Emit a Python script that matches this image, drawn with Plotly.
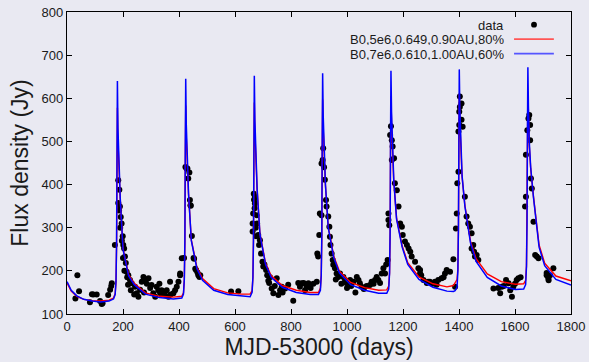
import plotly.graph_objects as go

# ---------------- data ----------------
data_day = [30, 37, 43, 82, 89, 94, 106, 118, 124, 127, 147, 154, 158, 160, 171,
            183, 187, 183, 189, 192, 195, 199, 201, 204, 207, 210, 213, 219, 225, 231,
            243, 249, 255, 261, 267, 273, 279, 291, 302, 308, 320, 326, 333, 338, 344,
            350, 356, 368, 380, 386, 392, 398, 404, 410, 275, 285, 297, 315, 330, 362,
            370, 240, 228, 218, 205, 190, 186, 196, 200, 215,
            418, 423, 427, 430, 433, 437, 439, 441, 442, 446, 452, 454, 458, 461, 466, 469,
            473, 476, 404, 586, 612,
            663, 663, 665, 667, 668, 670, 671, 671, 674, 676, 677, 679, 683, 686, 689, 693,
            698, 701, 705, 711, 715, 719, 722, 725, 731, 737, 742, 749, 755, 761, 767, 770,
            779, 790, 808, 826, 838, 850, 856, 862,
            832, 845, 856, 870, 880, 892, 894, 897, 901, 903, 909, 909, 913, 915, 918, 921,
            925, 927, 933, 937, 939, 941, 945, 949, 951, 957, 960, 963, 969, 975, 980, 987,
            993, 999, 1000, 1011, 1015, 1023, 1030, 1035, 1041, 1046, 1052, 1060, 1070, 1082,
            1088, 1095, 1100, 1106, 1112, 1118, 1124, 1130, 1136, 1140, 1145,
            1148, 1148, 1151, 1154, 1157, 1160, 1160, 1163, 1168, 1171, 1178, 1184, 1190, 1196,
            1199, 1207, 1214, 1220, 1226, 1231, 1243, 1255, 1261, 1261, 1265, 1273, 1285, 1290,
            1296, 1305, 1314, 1320, 1326, 1338, 1345, 1350, 1356, 1368, 1380, 1386,
            1389, 1392, 1394, 1398, 1398, 1401, 1401, 1403, 1403, 1409, 1409, 1413, 1421, 1427,
            1433, 1439, 1445, 1445, 1451, 1454, 1457, 1463, 1469,
            1523, 1540, 1547, 1553, 1560, 1568, 1577, 1583, 1589, 1594, 1600, 1606, 1612, 1620,
            1636, 1639, 1639, 1644, 1648, 1651, 1654, 1654, 1657, 1660, 1666, 1672, 1678, 1684,
            1713, 1713, 1719, 1720, 1725, 1737]
data_flux = [136, 190, 153, 127, 146, 145, 145, 130, 123, 125, 144, 156, 165, 171, 260,
             410, 388, 357, 349, 325, 310, 280, 260, 252, 233, 218, 198, 190, 179, 171,
             163, 148, 140, 156, 175, 186, 179, 183, 167, 148, 163, 155, 148, 155, 148,
             144, 155, 175, 148, 155, 163, 175, 190, 229, 150, 170, 160, 140, 170, 140,
             145, 145, 155, 168, 200, 300, 340, 270, 230, 185,
             230, 441, 437, 437, 414, 428, 364, 352, 351, 281, 230, 228, 205, 202, 196, 190,
             186, 190, 194, 152, 153,
             310, 291, 333, 379, 365, 345, 372, 356, 300, 280, 329, 310, 283, 260, 271, 240,
             221, 210, 215, 202, 190, 177, 172, 185, 159, 148, 165, 183, 144, 155, 163, 150,
             159, 168, 131, 172, 171, 155, 163, 171,
             163, 172, 165, 160, 170, 175, 240, 233, 283, 333, 329, 449, 457, 484, 440, 411,
             364, 349, 326, 302, 279, 260, 240, 225, 214, 206, 180, 194, 186, 194, 170, 186,
             179, 171, 160, 179, 165, 175, 150, 186, 179, 171, 163, 158, 165, 167,
             175, 170, 179, 186, 179, 172, 194, 206, 194, 215, 225,
             333, 318, 306, 515, 535, 503, 457, 488, 461, 403, 387, 349, 310, 302,
             283, 268, 260, 252, 244, 233, 221, 206, 194, 202, 190, 179, 172, 175,
             175, 170, 175, 168, 179, 183, 185, 194, 202, 198, 227, 163,
             298, 333, 403, 430, 523, 538, 569, 604, 580, 588, 550, 534, 372, 326,
             310, 302, 287, 252, 260, 244, 233, 237, 225,
             159, 160, 148, 163, 165, 179, 171, 155, 140, 163, 170, 179, 183, 185,
             349, 372, 469, 526, 553, 561, 538, 503, 414, 391, 314, 237, 233, 229,
             190, 195, 183, 178, 190, 206]

model_day = [0, 15, 35, 60, 90, 120, 150, 166,
             172, 175, 177, 178.5, 180, 182, 185, 190, 200, 220, 240, 280, 330, 380, 410,
             416, 419, 421, 422.5, 424, 426, 429, 434, 444, 464, 484, 524, 574, 624, 654,
             661, 664, 666, 667.5, 669, 671, 674, 679, 689, 709, 729, 769, 819, 869, 898,
             905, 908, 910, 911.5, 913, 915, 918, 923, 933, 953, 973, 1013, 1063, 1113, 1142,
             1149, 1152, 1154, 1155.5, 1157, 1159, 1162, 1167, 1177, 1197, 1217, 1257, 1307, 1357, 1380,
             1386, 1393, 1396, 1398, 1399.5, 1401, 1403, 1406, 1411, 1421, 1441, 1461, 1501, 1551, 1601, 1631,
             1638, 1641, 1643, 1644.5, 1646, 1648, 1651, 1656, 1666, 1686, 1706, 1746, 1796, 1800]

red_flux = [172, 153, 141, 134, 131, 130, 132, 137,
            147, 175, 255, 450, 578, 500, 430, 368, 252, 191, 171, 149, 141, 139, 141,
            149, 180, 265, 460, 583, 510, 440, 378, 272, 208, 182, 159, 149, 146, 146,
            154, 185, 270, 470, 590, 520, 450, 388, 287, 218, 189, 166, 155, 150, 150,
            160, 190, 275, 475, 597, 530, 460, 398, 302, 233, 199, 173, 161, 155, 156,
            165, 195, 285, 480, 605, 540, 470, 408, 322, 258, 219, 186, 170, 163, 166,
            172, 180, 205, 295, 490, 611, 545, 480, 418, 352, 269, 228, 193, 175, 169, 170,
            178, 212, 305, 495, 615, 550, 490, 438, 372, 260, 218, 188, 177, 177]

blue_flux = [175, 155, 142, 134, 130, 128, 130, 135,
             145, 175, 260, 480, 640, 530, 440, 370, 250, 188, 168, 146, 138, 135, 137,
             146, 180, 270, 490, 645, 540, 450, 380, 270, 205, 178, 155, 145, 142, 140,
             150, 185, 275, 500, 652, 550, 460, 390, 285, 215, 185, 162, 150, 145, 145,
             155, 190, 280, 505, 658, 560, 470, 400, 300, 230, 195, 168, 155, 148, 148,
             158, 195, 290, 510, 664, 570, 480, 410, 320, 255, 215, 180, 162, 153, 152,
             154, 162, 200, 300, 520, 667, 575, 490, 420, 350, 265, 222, 185, 165, 157, 158,
             168, 210, 310, 530, 672, 580, 500, 440, 370, 255, 212, 180, 168, 167]

legend_labels = ["data", "B0,5e6,0.649,0.90AU,80%", "B0,7e6,0.610,1.00AU,60%"]
x_ticks = [0, 200, 400, 600, 800, 1000, 1200, 1400, 1600, 1800]
y_ticks = [100, 200, 300, 400, 500, 600, 700, 800]

# ---------------- figure ----------------
BG = "#e9e9f2"
FONT = "Liberation Sans, Arial, sans-serif"
TXT = "#1a1a1a"

fig = go.Figure()
fig.add_trace(go.Scatter(x=data_day, y=data_flux, mode="markers",
                         marker=dict(color="black", size=6), showlegend=False))
fig.add_trace(go.Scatter(x=model_day, y=red_flux, mode="lines",
                         line=dict(color="#ff0000", width=1.4), showlegend=False))
fig.add_trace(go.Scatter(x=model_day, y=blue_flux, mode="lines",
                         line=dict(color="#0000ff", width=1.5), showlegend=False))

axis_common = dict(showgrid=False, zeroline=False, showline=True, linecolor="black",
                   linewidth=1.3, mirror="ticks", ticks="inside", ticklen=5,
                   tickcolor="black", tickwidth=1, automargin=False,
                   tickfont=dict(size=13, color=TXT, family=FONT))
fig.update_xaxes(range=[0, 1800], tickvals=x_ticks, ticktext=[str(v) for v in x_ticks],
                 title=dict(text="MJD-53000 (days)", font=dict(size=23, color=TXT, family=FONT), standoff=2),
                 **axis_common)
fig.update_yaxes(range=[100, 800], tickvals=y_ticks, ticktext=[str(v) for v in y_ticks],
                 title=dict(text="Flux density (Jy)", font=dict(size=23, color=TXT, family=FONT), standoff=6),
                 **axis_common)

# manual gnuplot-style legend (text on left, sample on right)
row_y = [0.958, 0.910, 0.862]
text_x = 0.870
samp_x0, samp_x1 = 0.887, 0.966
anns = []
for lbl, yy in zip(legend_labels, row_y):
    anns.append(dict(x=text_x, y=yy, xref="paper", yref="paper", text=lbl, showarrow=False,
                     xanchor="right", yanchor="middle", height=12, borderpad=0,
                     font=dict(size=13, color=TXT, family=FONT)))
shapes = [
    dict(type="circle", xref="paper", yref="paper", x0=0.9266 - 0.0058, x1=0.9266 + 0.0058,
         y0=row_y[0] - 0.0097, y1=row_y[0] + 0.0097, fillcolor="black", line=dict(width=0)),
    dict(type="line", xref="paper", yref="paper", x0=samp_x0, x1=samp_x1, y0=row_y[1], y1=row_y[1],
         line=dict(color="#ff5555", width=1.8)),
    dict(type="line", xref="paper", yref="paper", x0=samp_x0, x1=samp_x1, y0=row_y[2], y1=row_y[2],
         line=dict(color="#5555ff", width=1.8)),
]

fig.update_layout(width=589, height=362, margin=dict(l=67, r=18, t=12, b=48),
                  paper_bgcolor=BG, plot_bgcolor=BG, font=dict(family=FONT, color=TXT),
                  annotations=anns, shapes=shapes, showlegend=False)

fig.write_html("out.html")
